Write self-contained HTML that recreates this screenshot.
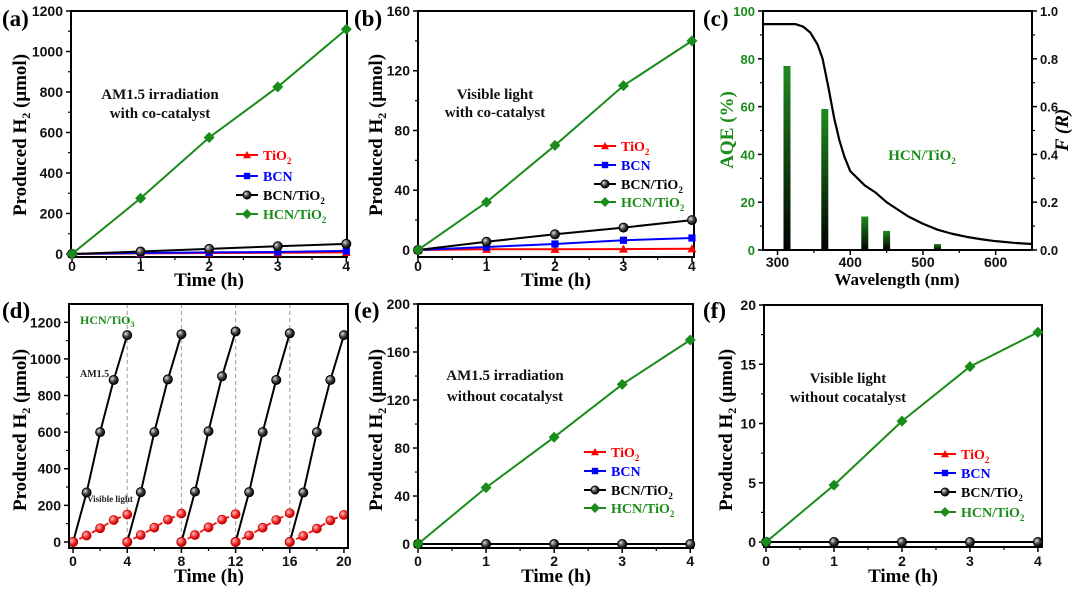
<!DOCTYPE html>
<html><head><meta charset="utf-8"><style>
body{margin:0;background:#fff;width:1080px;height:590px;overflow:hidden}
svg{display:block}
.tk{font-family:"Liberation Sans",sans-serif;font-weight:bold;font-size:14px;fill:#111}
.tks{font-size:13px}
.ser{font-family:"Liberation Serif",serif;font-weight:bold}
</style></head><body>
<svg id="fig" width="1080" height="590" viewBox="0 0 1080 590">
<defs>
<linearGradient id="barg" x1="0" y1="0" x2="0" y2="1"><stop offset="0" stop-color="#1f8a1f"/><stop offset="1" stop-color="#000"/></linearGradient>
<radialGradient id="ballk" cx="0.35" cy="0.35" r="0.7"><stop offset="0" stop-color="#ddd"/><stop offset="0.5" stop-color="#444"/><stop offset="1" stop-color="#000"/></radialGradient>
<radialGradient id="ballr" cx="0.35" cy="0.35" r="0.7"><stop offset="0" stop-color="#fbb"/><stop offset="0.6" stop-color="#e22"/><stop offset="1" stop-color="#a00"/></radialGradient>
</defs>
</svg>
<script>
// ---- data ----
const timeH = [0,1,2,3,4];
const aTiO2 = [0,3,5,6,8];
const aBCN = [0,5,8,10,15];
const aBCNTiO2 = [0,12,25,38,50];
const aHCNTiO2 = [0,275,575,825,1110];
const bTiO2 = [0,0.5,0.5,0.6,0.8];
const bBCN = [0,2,4,6.5,8];
const bBCNTiO2 = [0,5.5,10.5,15,20];
const bHCNTiO2 = [0,32,70,110,140];
const cBarWl = [313,365,420,450,520];
const cAQE = [77,59,14,8,2.5];
const cCurveWl = [280,300,325,335,345,355,362,370,378,385,392,400,410,420,435,450,465,480,500,520,540,560,580,600,625,650];
const cCurveF = [0.945,0.945,0.945,0.935,0.91,0.86,0.8,0.68,0.55,0.46,0.39,0.33,0.3,0.27,0.24,0.2,0.17,0.14,0.11,0.085,0.068,0.055,0.045,0.037,0.03,0.025];
const dCycleStart = [0,4,8,12,16];
const dAM15 = [[0,270,600,885,1130],[0,272,600,888,1135],[0,275,605,905,1150],[0,272,600,885,1140],[0,270,600,885,1130]];
const dVis = [[0,35,75,120,150],[0,38,78,122,155],[0,38,80,122,152],[0,36,78,120,157],[0,33,73,118,148]];
const eHCNTiO2 = [0,47,89,133,170];
const eZero = [0,0,0,0,0];
const fHCNTiO2 = [0,4.8,10.2,14.8,17.7];
const fZero = [0,0,0,0,0];
const ticks01234 = [0,1,2,3,4];
const ticksA = [0,200,400,600,800,1000,1200];
const ticksB = [0,40,80,120,160];
const ticksCx = [300,400,500,600];
const ticksCy = [0,20,40,60,80,100];
const ticksCr = [0,0.2,0.4,0.6,0.8,1.0];
const ticksDx = [0,4,8,12,16,20];
const ticksDy = [0,200,400,600,800,1000,1200];
const ticksE = [0,40,80,120,160,200];
const ticksF = [0,5,10,15,20];

const NS='http://www.w3.org/2000/svg';
const svg=document.getElementById('fig');
function el(tag,attrs,parent,text){const e=document.createElementNS(NS,tag);for(const k in attrs)e.setAttribute(k,attrs[k]);if(text!==undefined)e.textContent=text;(parent||svg).appendChild(e);return e;}

function makePanel(name,b,xr,yr){
  const g=el('g',{},svg);
  
  
  const sx=v=>b.x0+(v-xr[0])/(xr[1]-xr[0])*(b.x1-b.x0);
  const sy=v=>b.y1-(v-yr[0])/(yr[1]-yr[0])*(b.y1-b.y0);
  return {g,sx,sy,b};
}
function frame(p){
  const r=el('rect',{x:p.b.x0,y:p.b.y0,width:p.b.x1-p.b.x0,height:p.b.y1-p.b.y0,fill:'none',stroke:'#000','stroke-width':2},p.g);
  
  
}
function xTicks(p,ticks,minor,labY){
  ticks.forEach(t=>{const x=p.sx(t);
    el('line',{x1:x,x2:x,y1:p.b.y1,y2:p.b.y1+5,stroke:'#000','stroke-width':1.5},p.g);
    const tx=el('text',{x:x,y:labY,'text-anchor':'middle',class:'tk'},p.g,String(t));
    
    
  });
  for(let i=0;i<ticks.length-1;i++){const x=p.sx((ticks[i]+ticks[i+1])/2);
    el('line',{x1:x,x2:x,y1:p.b.y1,y2:p.b.y1+3,stroke:'#000','stroke-width':1.2},p.g);}
}
function yTicks(p,ticks,col,right,fmt,small){
  const x0=right?p.b.x1:p.b.x0, d=right?1:-1;
  ticks.forEach(t=>{const y=p.sy(t);
    el('line',{x1:x0,x2:x0+5*d,y1:y,y2:y,stroke:'#000','stroke-width':1.5},p.g);
    const tx=el('text',{x:x0+8*d,y:y+5,'text-anchor':right?'start':'end',class:small?'tk tks':'tk',style:col?'fill:'+col:''},p.g,fmt?fmt(t):String(t));
    
    
  });
  for(let i=0;i<ticks.length-1;i++){const y=p.sy((ticks[i]+ticks[i+1])/2);
    el('line',{x1:x0,x2:x0+3*d,y1:y,y2:y,stroke:'#000','stroke-width':1.2},p.g);}
}
function marker(g,type,x,y,s){
  s=s||4.5;
  if(type==='tri')return el('polygon',{points:`${x},${y-s} ${x-s},${y+s*0.8} ${x+s},${y+s*0.8}`,fill:'#f00'},g);
  if(type==='sq')return el('rect',{x:x-s*0.8,y:y-s*0.8,width:s*1.6,height:s*1.6,fill:'#00f'},g);
  if(type==='circ')return el('circle',{cx:x,cy:y,r:s,fill:'url(#ballk)',stroke:'#000','stroke-width':1},g);
  if(type==='dia')return el('polygon',{points:`${x},${y-s-1} ${x+s+1},${y} ${x},${y+s+1} ${x-s-1},${y}`,fill:'#1a8c1a'},g);
  if(type==='ballr')return el('circle',{cx:x,cy:y,r:s,fill:'url(#ballr)',stroke:'#c00','stroke-width':0.8},g);
}
const COL={tri:'#f00',sq:'#00f',circ:'#000',dia:'#1a8c1a',ballr:'#e22'};
function series(p,name,xs,ys,type,dash){
  const g=el('g',{},p.g);
  
  
  const pts=xs.map((x,i)=>p.sx(x)+','+p.sy(ys[i])).join(' ');
  el('polyline',{points:pts,fill:'none',stroke:COL[type],'stroke-width':2,'stroke-dasharray':dash||''},g);
  xs.forEach((x,i)=>{const m=marker(g,type,p.sx(x),p.sy(ys[i]));
    
    });
}
function legend(p,x,ys){
  const items=[['tri','TiO','#f00',true],['sq','BCN','#00f',false],['circ','BCN/TiO','#000',true],['dia','HCN/TiO','#1a8c1a',true]];
  items.forEach((it,i)=>{const y=ys[i];
    const g=el('g',{},p.g);
    
    
    el('line',{x1:x,x2:x+22,y1:y,y2:y,stroke:it[2],'stroke-width':2},g);
    marker(g,it[0],x+11,y,4);
    const t=el('text',{x:x+27,y:y+5,class:'ser','font-size':14,fill:it[2]},g,it[1]);
    if(it[3]){el('tspan',{'font-size':9,dy:4},t,'2');}
  });
}
function ytitle(x,y,txt,col,name){
  const t=el('text',{x:x,y:y,transform:`rotate(-90 ${x} ${y})`,'text-anchor':'middle',class:'ser','font-size':19,fill:col||'#000'},svg);
  
  
  if(txt==='H'){t.textContent='Produced H';el('tspan',{'font-size':12,dy:4},t,'2');el('tspan',{dy:-4},t,' (μmol)');}
  else t.textContent=txt;
  return t;
}
function label(x,y,txt,size,col,name,anchor){
  const t=el('text',{x:x,y:y,'text-anchor':anchor||'middle',class:'ser','font-size':size,fill:col||'#000'},svg,txt);
  
  
  return t;
}

// ---- panel a ----
let p=makePanel('panel-a',{x0:71,x1:347,y0:11,y1:257},[-0.015,4.01],[-15,1200]);
frame(p);xTicks(p,ticks01234,true,271);yTicks(p,ticksA);
series(p,'series-tio2',timeH,aTiO2,'tri');series(p,'series-bcn',timeH,aBCN,'sq');
series(p,'series-bcn-tio2',timeH,aBCNTiO2,'circ');series(p,'series-hcn-tio2',timeH,aHCNTiO2,'dia');
legend(p,236,[155,176,195,214]);
label(160,99,'AM1.5  irradiation',15,'#111','annotation-a1');label(160,118,'with co-catalyst',15,'#111','annotation-a2');
label(2,26,'(a)',23,'#000','panel-label-a','start');
ytitle(26,135,'H');label(209,286,'Time (h)',19,'#000','x-axis-title-a');

// ---- panel b ----
p=makePanel('panel-b',{x0:418,x1:694,y0:11,y1:257},[0,4.03],[-4.7,160]);
frame(p);xTicks(p,ticks01234,true,271);yTicks(p,ticksB);
series(p,'series-tio2',timeH,bTiO2,'tri');series(p,'series-bcn',timeH,bBCN,'sq');
series(p,'series-bcn-tio2',timeH,bBCNTiO2,'circ');series(p,'series-hcn-tio2',timeH,bHCNTiO2,'dia');
legend(p,594,[146,165,184,202]);
label(495,99,'Visible light',15,'#111','annotation-b1');label(495,117,'with co-catalyst',15,'#111','annotation-b2');
label(354,26,'(b)',23,'#000','panel-label-b','start');
ytitle(382,135,'H');label(556,286,'Time (h)',19,'#000','x-axis-title-b');

// ---- panel c ----
p=makePanel('panel-c',{x0:763,x1:1032,y0:11,y1:250},[280,650],[0,100]);
cBarWl.forEach((w,i)=>{const x=p.sx(w),y=p.sy(cAQE[i]);
  const r=el('rect',{x:x-3.5,y:y,width:7,height:p.sy(0)-y,fill:'url(#barg)'},p.g);
  
  });
{const pts=cCurveWl.map((w,i)=>p.sx(w)+','+p.sy(cCurveF[i]*100)).join(' ');
 const l=el('polyline',{points:pts,fill:'none',stroke:'#000','stroke-width':2.2,'stroke-linejoin':'round'},p.g);
 
 }
frame(p);xTicks(p,ticksCx,true,267);yTicks(p,ticksCy,'#1a8c1a',false,null,true);
const pr=makePanel('panel-c-right',{x0:763,x1:1032,y0:11,y1:250},[280,650],[0,1]);
yTicks(pr,ticksCr,null,true,v=>v.toFixed(1),true);
label(922,160,'HCN/TiO',15,'#1a8c1a','annotation-c');el('tspan',{'font-size':9,dy:4},svg.lastChild,'2');
label(703,26,'(c)',23,'#000','panel-label-c','start');
ytitle(733,130,'AQE (%)','#1a8c1a','y-axis-title-left');
{const t=ytitle(1068,130,'F (R)','#000','y-axis-title-right');t.setAttribute('font-style','italic');}
label(897,285,'Wavelength (nm)',17,'#000','x-axis-title-c');

// ---- panel d ----
p=makePanel('panel-d',{x0:69,x1:348,y0:304,y1:548},[-0.3,20.3],[-33,1300]);
dCycleStart.slice(1).forEach(t=>{const x=p.sx(t);
  const l=el('line',{x1:x,x2:x,y1:p.b.y0,y2:p.b.y1,stroke:'#aaa','stroke-width':1.2,'stroke-dasharray':'4,3'},p.g);
  
  });
dCycleStart.forEach((s,c)=>{const xs=timeH.map(t=>t+s);
  series(p,'series-am15-cycle'+(c+1),xs,dAM15[c],'circ');
  series(p,'series-visible-cycle'+(c+1),xs,dVis[c],'ballr','5,2');});
frame(p);xTicks(p,ticksDx,true,566);yTicks(p,ticksDy);
label(80,324,'HCN/TiO',12,'#1a8c1a','annotation-d','start');el('tspan',{'font-size':8,dy:3},svg.lastChild,'3');
label(80,377,'AM1.5',10,'#222','annotation-am15','start');
label(87,502,'Visible light',9,'#222','annotation-visible','start');
label(2,318,'(d)',23,'#000','panel-label-d','start');
ytitle(26,430,'H');label(209,582,'Time (h)',19,'#000','x-axis-title-d');

// ---- panel e ----
p=makePanel('panel-e',{x0:418,x1:693,y0:304,y1:548},[0,4.04],[-3.3,200]);
frame(p);xTicks(p,ticks01234,true,566);yTicks(p,ticksE);
series(p,'series-tio2',timeH,eZero,'tri');series(p,'series-bcn',timeH,eZero,'sq');
series(p,'series-bcn-tio2',timeH,eZero,'circ');series(p,'series-hcn-tio2',timeH,eHCNTiO2,'dia');
legend(p,584,[452,471,490,508]);
label(505,380,'AM1.5  irradiation',15,'#111','annotation-e1');label(505,401,'without cocatalyst',15,'#111','annotation-e2');
label(354,318,'(e)',23,'#000','panel-label-e','start');
ytitle(382,430,'H');label(556,582,'Time (h)',19,'#000','x-axis-title-e');

// ---- panel f ----
p=makePanel('panel-f',{x0:764,x1:1042,y0:305,y1:547},[-0.03,4.06],[-0.42,20]);
frame(p);xTicks(p,ticks01234,true,566);yTicks(p,ticksF);
series(p,'series-tio2',timeH,fZero,'tri');series(p,'series-bcn',timeH,fZero,'sq');
series(p,'series-bcn-tio2',timeH,fZero,'circ');series(p,'series-hcn-tio2',timeH,fHCNTiO2,'dia');
legend(p,934,[454,473,492,512]);
label(848,383,'Visible light',15,'#111','annotation-f1');label(848,402,'without cocatalyst',15,'#111','annotation-f2');
label(703,318,'(f)',23,'#000','panel-label-f','start');
ytitle(732,430,'H');label(903,582,'Time (h)',19,'#000','x-axis-title-f');
</script>
</body></html>
